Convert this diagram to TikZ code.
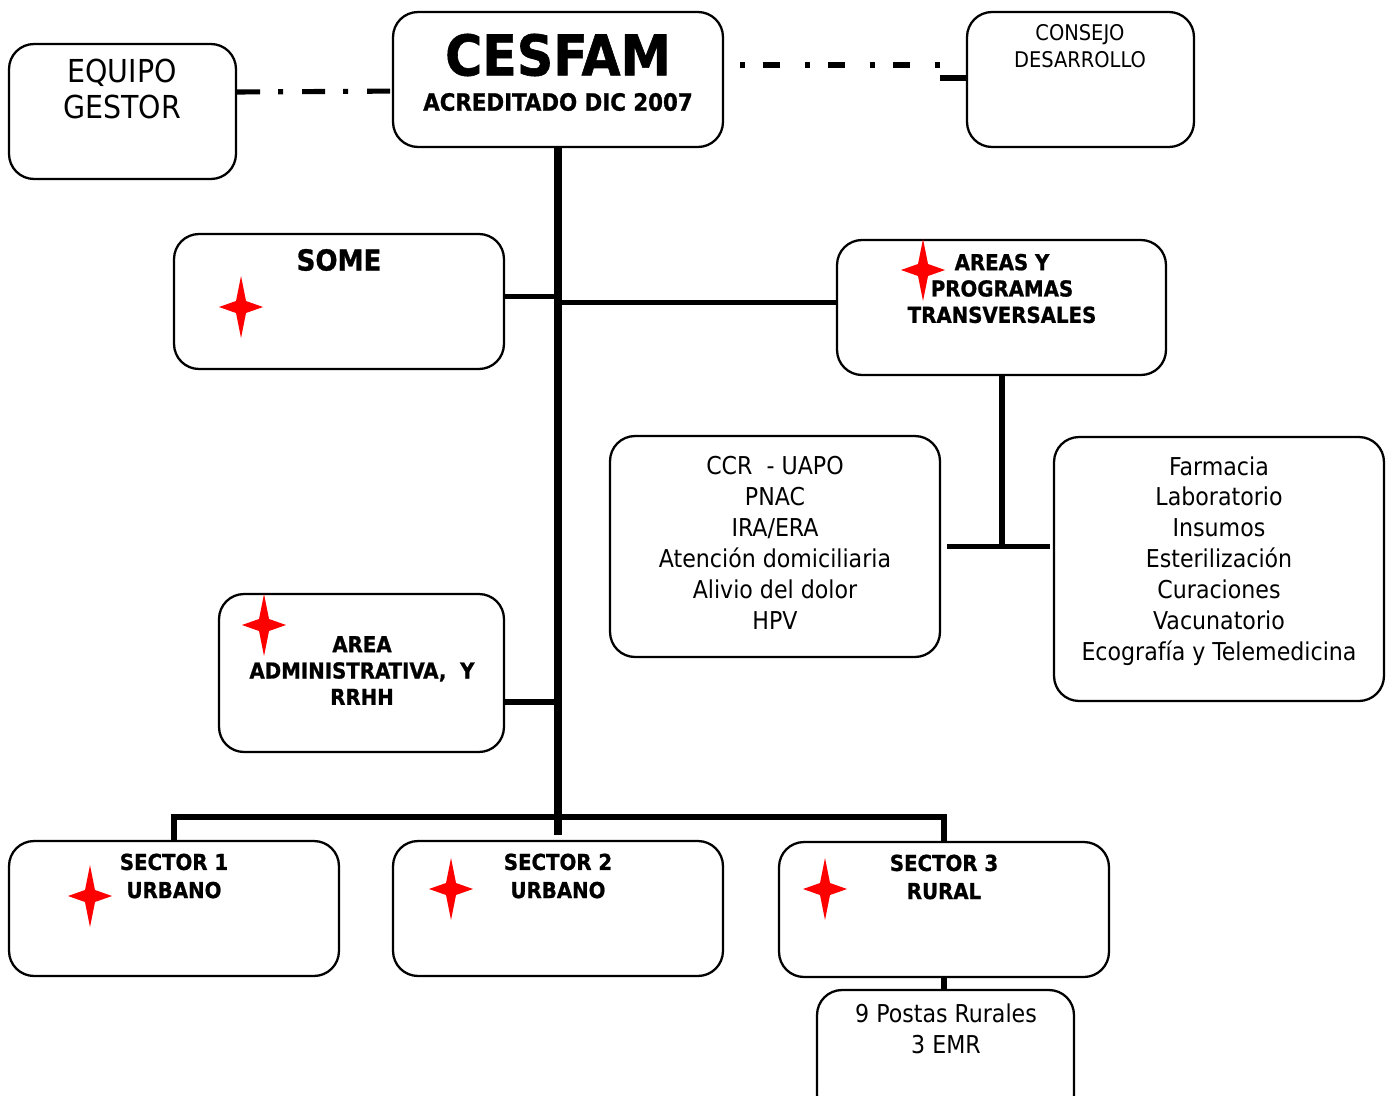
\documentclass[tikz,border=0pt]{standalone}
\usepackage{fontspec}
\setmainfont{DejaVu Sans Condensed}[BoldFeatures={FakeBold=1}]
\usetikzlibrary{arrows}

\begin{document}
\begin{tikzpicture}[x=0.02cm,y=-0.02cm]
    \tikzset{caja/.style = {shape=rectangle, draw, line width=1.3pt, rounded corners=0.5cm, inner sep=0pt}}
    \tikzset{negrita/.style = {font=\fontsize{12.5}{15}\selectfont\bfseries, align=center}}
    \tikzset{normal/.style = {font=\fontsize{14}{17.6}\selectfont, align=center}}
    \tikzset{rama/.style = {draw, line width=3.4pt}}
    \tikzset{tronco/.style = {draw, line width=5.1pt}}
    \tikzset{guion/.style = {draw, line width=2.9pt, dash pattern=on 0.46cm off 0.36cm on 0.1cm off 0.38cm}}
    \tikzset{estrella/.pic = {\fill[red] (0,-31) -- (5,-6) -- (22,0) -- (5,6) -- (0,31) -- (-5,6)
        -- (-22,0) -- (-5,-6) -- cycle;}}

    \useasboundingbox (0,0) rectangle (1392,1095);

    % cajas
    \node[caja, minimum width=4.54cm, minimum height=2.7cm] (equipo) at (122.5,111.5) {};
    \node[caja, minimum width=6.6cm, minimum height=2.7cm] (cesfam) at (558,79.5) {};
    \node[caja, minimum width=4.54cm, minimum height=2.7cm] (consejo) at (1080.5,79.5) {};
    \node[caja, minimum width=6.6cm, minimum height=2.7cm] (some) at (339,301.5) {};
    \node[caja, minimum width=6.58cm, minimum height=2.7cm] (areas) at (1001.5,307.5) {};
    \node[caja, minimum width=6.6cm, minimum height=4.42cm] (ccr) at (775,546.5) {};
    \node[caja, minimum width=6.6cm, minimum height=5.28cm] (farm) at (1219,569) {};
    \node[caja, minimum width=5.7cm, minimum height=3.16cm] (admin) at (361.5,673) {};
    \node[caja, minimum width=6.6cm, minimum height=2.7cm] (s1) at (174,908.5) {};
    \node[caja, minimum width=6.6cm, minimum height=2.7cm] (s2) at (558,908.5) {};
    \node[caja, minimum width=6.6cm, minimum height=2.7cm] (s3) at (944,909.5) {};
    \node[caja, minimum width=5.14cm, minimum height=2.6cm] (postas) at (945.5,1055) {};

    % textos
    \node[normal, font=\fontsize{18}{20.5}\selectfont] (equipoT) at (122,89) {EQUIPO\\GESTOR};
    \node[font=\fontsize{32}{36}\selectfont\bfseries] (cesfamT) at (558,55) {CESFAM};
    \node[font=\fontsize{13.5}{16}\selectfont\bfseries] (acredT) at (558,102) {ACREDITADO DIC 2007};
    \node[normal, font=\fontsize{12.3}{15.3}\selectfont] (consejoT) at (1080,46.5) {CONSEJO\\DESARROLLO};
    \node[font=\fontsize{16.5}{19}\selectfont\bfseries] (someT) at (339,260) {SOME};
    \node[negrita] (areasT) at (1002,288.5) {AREAS Y\\PROGRAMAS\\TRANSVERSALES};
    \node[normal] (ccrT) at (775,543) {CCR\ \ - UAPO\\PNAC\\IRA/ERA\\Atención domiciliaria\\Alivio del dolor\\HPV};
    \node[normal] (farmT) at (1219,561) {Farmacia\\Laboratorio\\Insumos\\Esterilización\\Curaciones\\Vacunatorio\\Ecografía y Telemedicina};
    \node[negrita] (adminT) at (362,670.5) {AREA\\ADMINISTRATIVA,\ \ Y\\RRHH};
    \node[negrita, font=\fontsize{12.5}{16}\selectfont\bfseries] (s1T) at (174,876) {SECTOR 1\\URBANO};
    \node[negrita, font=\fontsize{12.5}{16}\selectfont\bfseries] (s2T) at (558,876) {SECTOR 2\\URBANO};
    \node[negrita, font=\fontsize{12.5}{16}\selectfont\bfseries] (s3T) at (944,877) {SECTOR 3\\RURAL};
    \node[normal] (postasT) at (946,1028.5) {9 Postas Rurales\\3 EMR};

    % estrellas
    \pic at (241,307) {estrella};
    \pic at (923,270) {estrella};
    \pic at (264,625) {estrella};
    \pic at (90,896) {estrella};
    \pic at (451,889) {estrella};
    \pic at (825,889) {estrella};

    % lineas
    \coordinate (cdA) at (740,65);
    \coordinate (cdB) at (940,65);
    \draw[guion] (equipo.east |- 0,92) -- ([xshift=0.3cm]cesfam.west |- 0,91);
    \draw[guion, dash pattern=on 0.1cm off 0.36cm on 0.34cm off 0.5cm] (cdA) -- (cdB);
    \draw[rama] (cdB |- 0,78) -- (consejo.west |- 0,78);
    \draw[tronco] (cesfam.south) -- ([yshift=0.1cm]s2.north);
    \draw[rama] ([yshift=0.1cm]some.east) -- ([yshift=0.1cm]some.east -| cesfam.south);
    \draw[rama] ([yshift=0.1cm]areas.west) -- ([yshift=0.1cm]areas.west -| cesfam.south);
    \draw[rama] (areas.south) -- (areas.south |- ccr.east);
    \draw[rama] ([xshift=0.12cm]ccr.east) -- ([xshift=-0.06cm]ccr.east -| farm.west);
    \draw[rama] (admin.east |- 0,702) -- (cesfam.south |- 0,702);
    \draw[rama] (s1.north) -- (s1.north |- 0,817) -- (s3.north |- 0,817) -- (s3.north);
    \draw[rama] (s3.south) -- (s3.south |- postas.north);
\end{tikzpicture}
\end{document}
